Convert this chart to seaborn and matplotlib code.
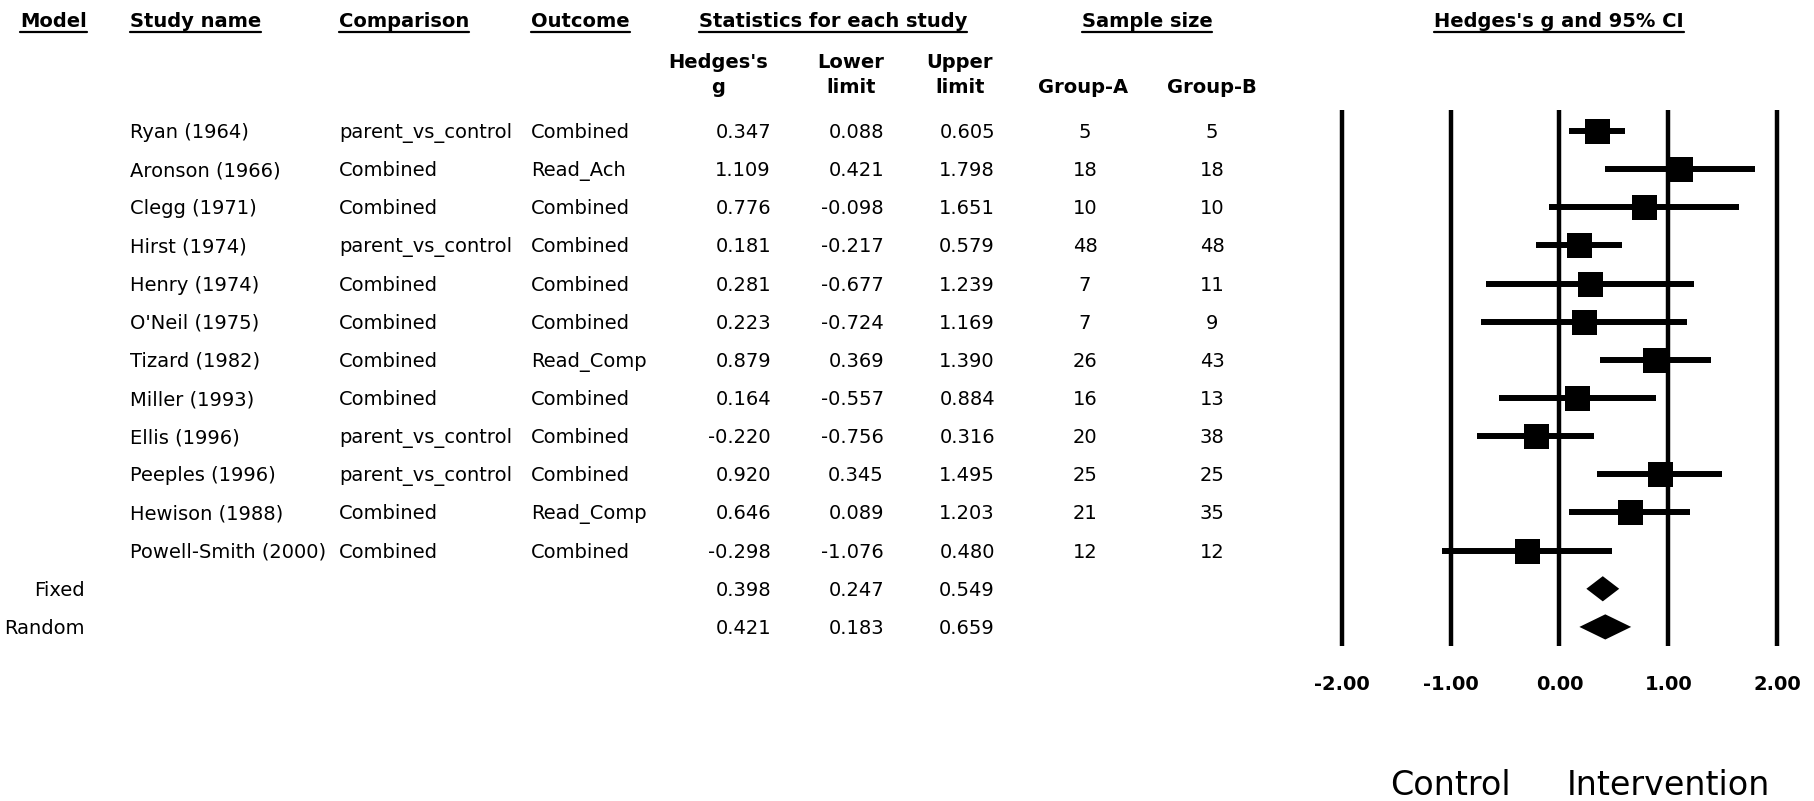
import matplotlib
matplotlib.use("Agg")
import matplotlib.pyplot as plt
import matplotlib.transforms as mtransforms
from matplotlib.lines import Line2D
import seaborn as sns
import pandas as pd

# ---------------- data ----------------
studies = ["Ryan (1964)", "Aronson (1966)", "Clegg (1971)", "Hirst (1974)", "Henry (1974)",
           "O'Neil (1975)", "Tizard (1982)", "Miller (1993)", "Ellis (1996)", "Peeples (1996)",
           "Hewison (1988)", "Powell-Smith (2000)"]
comparison = ["parent_vs_control", "Combined", "Combined", "parent_vs_control", "Combined",
              "Combined", "Combined", "Combined", "parent_vs_control", "parent_vs_control",
              "Combined", "Combined"]
outcome = ["Combined", "Read_Ach", "Combined", "Combined", "Combined", "Combined",
           "Read_Comp", "Combined", "Combined", "Combined", "Read_Comp", "Combined"]
hedges_g = [0.347, 1.109, 0.776, 0.181, 0.281, 0.223, 0.879, 0.164, -0.220, 0.920, 0.646, -0.298]
lower = [0.088, 0.421, -0.098, -0.217, -0.677, -0.724, 0.369, -0.557, -0.756, 0.345, 0.089, -1.076]
upper = [0.605, 1.798, 1.651, 0.579, 1.239, 1.169, 1.390, 0.884, 0.316, 1.495, 1.203, 0.480]
group_a = [5, 18, 10, 48, 7, 7, 26, 16, 20, 25, 21, 12]
group_b = [5, 18, 10, 48, 11, 9, 43, 13, 38, 25, 35, 12]

models = ["Fixed", "Random"]
model_g = [0.398, 0.421]
model_lower = [0.247, 0.183]
model_upper = [0.549, 0.659]

ticks = [-2.0, -1.0, 0.0, 1.0, 2.0]
tick_labels = ["-2.00", "-1.00", "0.00", "1.00", "2.00"]
favours = ["Control", "Intervention"]

# ---------------- style ----------------
sns.set_theme(style="white")
plt.rcParams["font.family"] = ["DejaVu Sans"]
plt.rcParams["font.size"] = 14
plt.rcParams["text.color"] = "black"
plt.rcParams["xtick.color"] = "black"
plt.rcParams["xtick.labelcolor"] = "black"

W, H = 1815, 801
fig = plt.figure(figsize=(W / 100, H / 100), dpi=100)
fig.patch.set_facecolor("white")


def fx(px):
    return px / W


def fy(py):
    return 1 - py / H


# forest axes
ax_left, ax_right, ax_top, ax_bottom = 1342, 1777, 110, 646
ax = fig.add_axes([fx(ax_left), fy(ax_bottom), fx(ax_right - ax_left), (ax_bottom - ax_top) / H])
ax.set_facecolor("none")

n = len(studies)
rows = list(range(n))
df = pd.DataFrame({"g": hedges_g, "row": rows, "lo": lower, "hi": upper})

for t in ticks:
    ax.axvline(t, color="black", lw=3.2, clip_on=False, zorder=1, solid_capstyle="butt")

ax.hlines(df["row"], df["lo"], df["hi"], color="black", lw=4.3, zorder=2)
sns.scatterplot(data=df, x="g", y="row", marker="s", s=324, color="black",
                linewidth=0, ax=ax, legend=False, zorder=3)

half_h = 0.33
for i, (mg, ml, mu) in enumerate(zip(model_g, model_lower, model_upper)):
    r = n + i
    ax.fill([ml, mg, mu, mg], [r, r - half_h, r, r + half_h], color="black", lw=0, zorder=3)

ax.set_xlim(-2, 2)
ax.set_ylim(13.5, -0.55)
ax.set_xticks(ticks)
ax.set_xticklabels(tick_labels, fontsize=14, fontweight="bold", color="black")
ax.tick_params(axis="x", length=0, pad=21)
ax.set_yticks([])
ax.set_xlabel("")
ax.set_ylabel("")
for s in ax.spines.values():
    s.set_visible(False)

# favours labels
fav_tr = mtransforms.blended_transform_factory(ax.transData, fig.transFigure)
ax.text(-1, fy(795), favours[0], transform=fav_tr, ha="center", va="baseline",
        fontsize=24, color="black", clip_on=False)
ax.text(1, fy(795), favours[1], transform=fav_tr, ha="center", va="baseline",
        fontsize=24, color="black", clip_on=False)

# ---------------- table text ----------------
row_tr = (mtransforms.blended_transform_factory(fig.transFigure, ax.transData)
          + mtransforms.ScaledTranslation(0, -0.07, fig.dpi_scale_trans))
fs = 14


def row_text(xpx, r, s, ha):
    fig.text(fx(xpx), r, s, transform=row_tr, ha=ha, va="baseline", fontsize=fs, color="black")


for i in range(n):
    row_text(130, i, studies[i], "left")
    row_text(339, i, comparison[i], "left")
    row_text(531, i, outcome[i], "left")
    row_text(771, i, f"{hedges_g[i]:.3f}", "right")
    row_text(884, i, f"{lower[i]:.3f}", "right")
    row_text(995, i, f"{upper[i]:.3f}", "right")
    row_text(1085, i, str(group_a[i]), "center")
    row_text(1212, i, str(group_b[i]), "center")

for j, m in enumerate(models):
    r = n + j
    row_text(85, r, m, "right")
    row_text(771, r, f"{model_g[j]:.3f}", "right")
    row_text(884, r, f"{model_lower[j]:.3f}", "right")
    row_text(995, r, f"{model_upper[j]:.3f}", "right")

# headers
underlined = []
for xpx, s, ha in [(20, "Model", "left"), (130, "Study name", "left"),
                   (339, "Comparison", "left"), (531, "Outcome", "left"),
                   (833, "Statistics for each study", "center"),
                   (1147, "Sample size", "center"),
                   (1559, "Hedges's g and 95% CI", "center")]:
    t = fig.text(fx(xpx), fy(27), s, ha=ha, va="baseline", fontsize=14,
                 fontweight="bold", color="black")
    underlined.append(t)

for xpx, l1, l2 in [(718, "Hedges's", "g"), (851, "Lower", "limit"), (960, "Upper", "limit")]:
    fig.text(fx(xpx), fy(68), l1, ha="center", va="baseline", fontsize=14,
             fontweight="bold", color="black")
    fig.text(fx(xpx), fy(93), l2, ha="center", va="baseline", fontsize=14,
             fontweight="bold", color="black")
for xpx, s in [(1083, "Group-A"), (1212, "Group-B")]:
    fig.text(fx(xpx), fy(93), s, ha="center", va="baseline", fontsize=14,
             fontweight="bold", color="black")

fig.canvas.draw()
renderer = fig.canvas.get_renderer()
for t in underlined:
    bb = t.get_window_extent(renderer)
    fig.add_artist(Line2D([bb.x0 / W, bb.x1 / W], [fy(32), fy(32)], transform=fig.transFigure,
                          color="black", lw=1.6))

fig.savefig("out.png", dpi=100, facecolor="white")
